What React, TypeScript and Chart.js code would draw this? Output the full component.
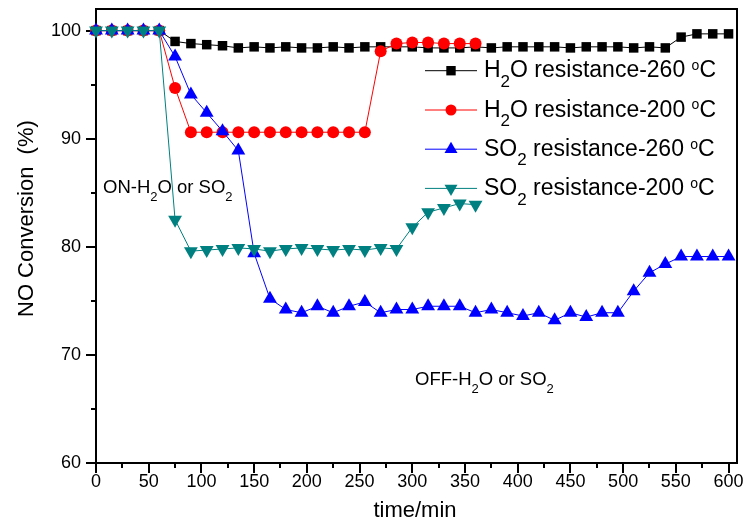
import React, { useEffect, useRef } from 'react';
import { Chart, registerables } from 'chart.js';

Chart.register(...registerables);

const FONT = 'Arial, "Liberation Sans", Helvetica, sans-serif';

// time axis (min)
const times = [0, 15, 30, 45, 60, 75, 90, 105, 120, 135, 150, 165, 180, 195, 210, 225, 240, 255, 270, 285, 300, 315, 330, 345, 360, 375, 390, 405, 420, 435, 450, 465, 480, 495, 510, 525, 540, 555, 570, 585, 600];
const timesShort = [0, 15, 30, 45, 60, 75, 90, 105, 120, 135, 150, 165, 180, 195, 210, 225, 240, 255, 270, 285, 300, 315, 330, 345, 360];

// NO conversion (%)
const h2o260 = [100, 100, 100, 100, 100, 99.0, 98.8, 98.7, 98.6, 98.4, 98.5, 98.4, 98.5, 98.4, 98.4, 98.5, 98.4, 98.5, 98.5, 98.5, 98.5, 98.4, 98.4, 98.4, 98.5, 98.4, 98.5, 98.5, 98.5, 98.5, 98.4, 98.5, 98.5, 98.5, 98.4, 98.5, 98.4, 99.4, 99.7, 99.7, 99.7];
const h2o200 = [100, 100, 100, 100, 100, 94.7, 90.6, 90.6, 90.6, 90.6, 90.6, 90.6, 90.6, 90.6, 90.6, 90.6, 90.6, 90.6, 98.1, 98.8, 98.9, 98.9, 98.8, 98.8, 98.8];
const so2260 = [100, 100, 100, 100, 100, 97.6, 94.1, 92.4, 90.7, 88.9, 79.4, 75.2, 74.2, 73.9, 74.5, 73.9, 74.5, 74.9, 73.9, 74.2, 74.2, 74.5, 74.5, 74.5, 73.9, 74.2, 73.9, 73.6, 73.9, 73.2, 73.9, 73.5, 73.9, 73.9, 75.9, 77.6, 78.4, 79.1, 79.1, 79.1, 79.1];
const so2200 = [100, 100, 100, 100, 100, 82.5, 79.6, 79.7, 79.8, 79.9, 79.8, 79.6, 79.8, 79.9, 79.8, 79.7, 79.8, 79.7, 79.9, 79.8, 81.8, 83.2, 83.6, 84.0, 83.9];

// tick labels
const xMajor = [0, 50, 100, 150, 200, 250, 300, 350, 400, 450, 500, 550, 600];
const yMajor = [60, 70, 80, 90, 100];

const xTitle = 'time/min';
const yTitle = 'NO Conversion  (%)';

type Part = { t: string; sub?: boolean; sup?: boolean };

const legendLabels: Part[][] = [
  [{ t: 'H' }, { t: '2', sub: true }, { t: 'O resistance-260 ' }, { t: 'o', sup: true }, { t: 'C' }],
  [{ t: 'H' }, { t: '2', sub: true }, { t: 'O resistance-200 ' }, { t: 'o', sup: true }, { t: 'C' }],
  [{ t: 'SO' }, { t: '2', sub: true }, { t: ' resistance-260 ' }, { t: 'o', sup: true }, { t: 'C' }],
  [{ t: 'SO' }, { t: '2', sub: true }, { t: ' resistance-200 ' }, { t: 'o', sup: true }, { t: 'C' }],
];
const onLabel: Part[] = [{ t: 'ON-H' }, { t: '2', sub: true }, { t: 'O or SO' }, { t: '2', sub: true }];
const offLabel: Part[] = [{ t: 'OFF-H' }, { t: '2', sub: true }, { t: 'O or SO' }, { t: '2', sub: true }];

const colors = ['#000000', '#ff0000', '#0000ff', '#008080'];
const markers = ['square', 'circle', 'up', 'down'];

function drawRich(ctx: CanvasRenderingContext2D, parts: Part[], x: number, y: number, size: number) {
  let cx = x;
  ctx.textBaseline = 'alphabetic';
  ctx.textAlign = 'left';
  ctx.fillStyle = '#000';
  for (const p of parts) {
    let s = size;
    let dy = 0;
    if (p.sub) { s = Math.round(size * 0.72); dy = size * 0.42; }
    else if (p.sup) { s = Math.round(size * 0.62); dy = -size * 0.31; }
    ctx.font = `${s}px ${FONT}`;
    ctx.fillText(p.t, cx, y + dy);
    cx += ctx.measureText(p.t).width;
  }
}

function drawMarker(ctx: CanvasRenderingContext2D, kind: string, x: number, y: number, color: string) {
  ctx.fillStyle = color;
  ctx.beginPath();
  if (kind === 'square') {
    ctx.rect(x - 4.7, y - 4.7, 9.4, 9.4);
  } else if (kind === 'circle') {
    ctx.arc(x, y, 5.5, 0, Math.PI * 2);
  } else {
    const r = 7.5;
    const sgn = kind === 'up' ? 1 : -1;
    for (let i = 0; i < 3; i++) {
      const a = (i * 2 * Math.PI) / 3;
      const px = x + Math.sin(a) * r;
      const py = y - sgn * Math.cos(a) * r;
      if (i === 0) ctx.moveTo(px, py); else ctx.lineTo(px, py);
    }
    ctx.closePath();
  }
  ctx.fill();
}

const framePlugin = {
  id: 'frame',
  beforeDatasetsDraw(chart: any) {
    const ctx: CanvasRenderingContext2D = chart.ctx;
    const { left, right, top, bottom } = chart.chartArea;
    const xs = chart.scales.x;
    const ys = chart.scales.y;
    ctx.save();
    ctx.strokeStyle = '#000';
    ctx.lineWidth = 2;
    ctx.strokeRect(left, top, right - left, bottom - top);
    ctx.beginPath();
    for (let v = 0; v <= 600; v += 25) {
      const px = Math.round(xs.getPixelForValue(v));
      const len = xMajor.includes(v) ? 10 : 5;
      ctx.moveTo(px, bottom);
      ctx.lineTo(px, bottom + len);
    }
    for (let v = 60; v <= 100; v += 5) {
      const py = Math.round(ys.getPixelForValue(v));
      const len = yMajor.includes(v) ? 10 : 5;
      ctx.moveTo(left, py);
      ctx.lineTo(left - len, py);
    }
    ctx.stroke();
    ctx.restore();
  },
  afterDraw(chart: any) {
    const ctx: CanvasRenderingContext2D = chart.ctx;
    ctx.save();
    const rowsY = [70.7, 110, 149.2, 188.4];
    rowsY.forEach((ry, i) => {
      ctx.strokeStyle = colors[i];
      ctx.lineWidth = 1;
      ctx.beginPath();
      ctx.moveTo(425, ry);
      ctx.lineTo(477, ry);
      ctx.stroke();
      drawMarker(ctx, markers[i], 451, ry, colors[i]);
      drawRich(ctx, legendLabels[i], 484, ry + 6.5, 23);
    });
    drawRich(ctx, onLabel, 103, 193, 18.5);
    drawRich(ctx, offLabel, 415, 385, 18.5);

    // axis titles
    ctx.fillStyle = '#000';
    ctx.font = `22px ${FONT}`;
    ctx.textBaseline = 'alphabetic';
    ctx.textAlign = 'center';
    ctx.fillText(xTitle, 415, 517);
    ctx.translate(33, 317);
    ctx.rotate(-Math.PI / 2);
    ctx.textAlign = 'left';
    ctx.fillText(yTitle, 0, 0);
    ctx.restore();
  },
};

export default function App() {
  const ref = useRef<HTMLCanvasElement>(null);
  useEffect(() => {
    document.body.style.margin = '0';
    const mk = (xs: number[], ys: number[]) => ys.map((y, i) => ({ x: xs[i], y }));
    const chart = new Chart(ref.current as HTMLCanvasElement, {
      type: 'line',
      data: {
        datasets: [
          {
            label: 'H2O resistance-260 °C', data: mk(times, h2o260), order: 4,
            borderColor: colors[0], backgroundColor: colors[0], borderWidth: 1,
            pointStyle: 'rect', pointRadius: 6.7, pointBorderWidth: 0, clip: false,
          },
          {
            label: 'H2O resistance-200 °C', data: mk(timesShort, h2o200), order: 3,
            borderColor: colors[1], backgroundColor: colors[1], borderWidth: 1,
            pointStyle: 'circle', pointRadius: 6, pointBorderWidth: 0, clip: false,
          },
          {
            label: 'SO2 resistance-260 °C', data: mk(times, so2260), order: 2,
            borderColor: colors[2], backgroundColor: colors[2], borderWidth: 1,
            pointStyle: 'triangle', pointRadius: 8, pointBorderWidth: 0, clip: false,
          },
          {
            label: 'SO2 resistance-200 °C', data: mk(timesShort, so2200), order: 1,
            borderColor: colors[3], backgroundColor: colors[3], borderWidth: 1,
            pointStyle: 'triangle', pointRotation: 180, pointRadius: 8, pointBorderWidth: 0, clip: false,
          },
        ] as any,
      },
      options: {
        responsive: false,
        animation: false,
        layout: { padding: { left: 0, right: 6, top: 9, bottom: 0 } },
        plugins: { legend: { display: false }, tooltip: { enabled: false } },
        elements: { line: { tension: 0 } },
        scales: {
          x: {
            type: 'linear', min: 0, max: 608,
            grid: { display: false, drawTicks: false },
            border: { display: false },
            ticks: {
              stepSize: 25, includeBounds: false, autoSkip: false, maxRotation: 0, padding: 8,
              color: '#000', font: { size: 18, family: FONT },
              callback: (v: any) => (xMajor.includes(Number(v)) ? String(v) : ''),
            },
            title: { display: false },
            afterFit: (s: any) => { s.height = 61; s.paddingLeft = 0; s.paddingRight = 0; },
          },
          y: {
            type: 'linear', min: 60, max: 102,
            grid: { display: false, drawTicks: false },
            border: { display: false },
            ticks: {
              stepSize: 5, includeBounds: false, autoSkip: false, padding: 15,
              color: '#000', font: { size: 18, family: FONT },
              callback: (v: any) => (yMajor.includes(Number(v)) ? String(v) : ''),
            },
            title: { display: false },
            afterFit: (s: any) => { s.width = 96; s.paddingTop = 0; s.paddingBottom = 0; },
          },
        },
      } as any,
      plugins: [framePlugin],
    });
    return () => chart.destroy();
  }, []);
  return (
    <div style={{ width: 745, height: 524 }}>
      <canvas ref={ref} width={745} height={524} style={{ display: 'block' }} />
    </div>
  );
}
